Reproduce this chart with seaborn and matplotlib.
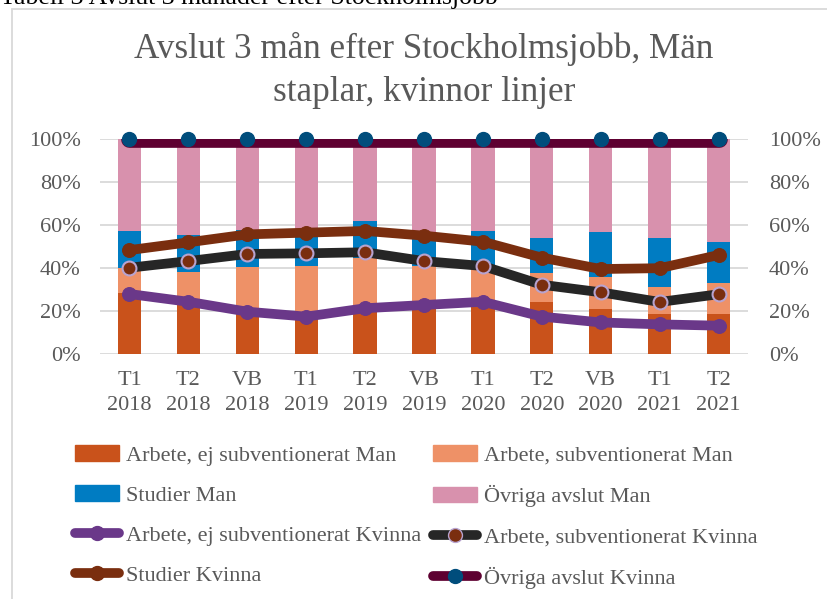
import numpy as np
import matplotlib
matplotlib.use("Agg")
import matplotlib.pyplot as plt
import seaborn as sns
from matplotlib.lines import Line2D
from matplotlib.patches import Patch, Rectangle
from matplotlib.ticker import PercentFormatter

# periods on the x axis
periods = ["T1\n2018", "T2\n2018", "VB\n2018", "T1\n2019", "T2\n2019", "VB\n2019",
           "T1\n2020", "T2\n2020", "VB\n2020", "T1\n2021", "T2\n2021"]

# men (bars), share in percent
man_arbete_ej_subv = [28.6, 25.0, 20.5, 18.0, 21.5, 23.0, 22.0, 24.4, 21.0, 18.7, 18.7]
man_arbete_subv = [11.4, 13.0, 20.2, 23.2, 23.1, 18.0, 18.7, 13.2, 15.0, 12.7, 14.6]
man_studier = [17.3, 17.4, 17.0, 16.8, 17.4, 14.0, 16.7, 16.3, 21.0, 22.8, 19.0]
man_ovriga = [42.7, 44.6, 42.3, 42.0, 38.0, 45.0, 42.6, 46.1, 43.0, 45.8, 47.7]

# women (stacked lines), share in percent
kv_arbete_ej_subv = [28.0, 24.4, 19.8, 17.5, 21.4, 22.9, 24.4, 17.5, 14.8, 13.9, 13.3]
kv_arbete_subv = [12.2, 18.9, 26.8, 29.4, 26.0, 20.4, 16.6, 14.8, 14.0, 10.4, 14.6]
kv_studier = [8.2, 8.7, 9.1, 9.6, 9.9, 11.8, 11.3, 12.6, 10.8, 15.7, 18.2]
kv_ovriga = [51.6, 48.0, 44.3, 43.5, 42.7, 44.9, 47.7, 55.1, 60.4, 60.0, 53.9]

c_dark = "#C9521B"
c_light = "#EE9167"
c_blue = "#007CC2"
c_pink = "#D891AD"
c_purple = "#6A3889"
c_black = "#262626"
c_brown = "#7A2E0F"
c_maroon = "#5E0031"
c_dot = "#004D7C"
c_edge = "#B8A3CF"
txt = "#595959"

sns.set_style("white")
plt.rcParams["font.family"] = ["Liberation Serif", "DejaVu Serif"]

fig = plt.figure(figsize=(8.28, 5.99), dpi=100)
ax = fig.add_axes([100 / 828, 1 - 354.3 / 599, 648 / 828, 215.3 / 599])

# stacked bars: draw cumulative totals from the top layer down
man_layers = [man_arbete_ej_subv, man_arbete_subv, man_studier, man_ovriga]
man_cum = np.cumsum(np.array(man_layers), axis=0)
for cum, col in zip(man_cum[::-1], [c_pink, c_blue, c_light, c_dark]):
    sns.barplot(x=periods, y=cum, color=col, saturation=1, width=0.395,
                linewidth=0, ax=ax, zorder=2)

# stacked lines for women
kv_cum = np.cumsum(np.array([kv_arbete_ej_subv, kv_arbete_subv, kv_studier, kv_ovriga]), axis=0)
xpos = np.arange(len(periods))
lw = 7
ms = 10
sns.lineplot(x=xpos, y=kv_cum[0], color=c_purple, lw=lw, marker="o", markersize=ms,
             markeredgecolor=c_purple, ax=ax, zorder=4)
sns.lineplot(x=xpos, y=kv_cum[1], color=c_black, lw=lw, marker="o", markersize=ms,
             markerfacecolor=c_brown, markeredgecolor=c_edge, markeredgewidth=1.5, ax=ax, zorder=4)
sns.lineplot(x=xpos, y=kv_cum[2], color=c_brown, lw=lw, marker="o", markersize=ms,
             markeredgecolor=c_brown, ax=ax, zorder=4)
sns.lineplot(x=xpos, y=kv_cum[3], color=c_maroon, lw=12, solid_capstyle="round", ax=ax, zorder=4)
ax.plot(xpos, kv_cum[3], ls="none", marker="o", markersize=ms, color=c_dot, clip_on=False, zorder=5)

ax.set_xlim(-0.5, len(periods) - 0.5)
ax.set_ylim(0, 100)
ax.set_yticks(np.arange(0, 101, 20))
ax.yaxis.set_major_formatter(PercentFormatter(decimals=0))
ax.grid(axis="y", color="#D9D9D9", lw=1.3, zorder=0)
ax.set_axisbelow(True)
ax.set_xlabel("")
ax.set_ylabel("")
for s in ax.spines.values():
    s.set_visible(False)
ax.tick_params(axis="both", length=0, labelsize=16, labelcolor=txt)
ax.tick_params(axis="y", pad=14)
ax.tick_params(axis="x", pad=12)
for lbl in ax.get_xticklabels():
    lbl.set_linespacing(1.45)

ax2 = ax.twinx()
ax2.set_ylim(0, 100)
ax2.set_yticks(np.arange(0, 101, 20))
ax2.yaxis.set_major_formatter(PercentFormatter(decimals=0))
for s in ax2.spines.values():
    s.set_visible(False)
ax2.tick_params(axis="y", length=0, labelsize=16, labelcolor=txt, pad=15)

fig.text(424 / 828, 1 - 70 / 599, "Avslut 3 mån efter Stockholmsjobb, Män\nstaplar, kvinnor linjer",
         ha="center", va="center", fontsize=25.3, color=txt, linespacing=1.4)
fig.text(0.0, 1 - 4 / 599, "Tabell 3 Avslut 3 månader efter Stockholmsjobb",
         ha="left", va="baseline", fontsize=18.5, color="black")

# chart area border (only top and left edges inside the picture)
fig.patches.append(Rectangle((12 / 828, -0.1), 1.2, 1 - 9 / 599 + 0.1, transform=fig.transFigure,
                             fill=False, edgecolor="#D9D9D9", lw=1.3))

col1 = [Patch(color=c_dark, label="Arbete, ej subventionerat Man"),
        Patch(color=c_blue, label="Studier Man"),
        Line2D([], [], color=c_purple, lw=lw, marker="o", markersize=ms, solid_capstyle="round",
               label="Arbete, ej subventionerat Kvinna"),
        Line2D([], [], color=c_brown, lw=lw, marker="o", markersize=ms, solid_capstyle="round",
               label="Studier Kvinna")]
col2 = [Patch(color=c_light, label="Arbete, subventionerat Man"),
        Patch(color=c_pink, label="Övriga avslut Man"),
        Line2D([], [], color=c_black, lw=lw, marker="o", markersize=ms, markerfacecolor=c_brown,
               markeredgecolor=c_edge, solid_capstyle="round", label="Arbete, subventionerat Kvinna"),
        Line2D([], [], color=c_maroon, lw=lw, marker="o", markersize=ms, markerfacecolor=c_dot,
               markeredgecolor=c_dot, solid_capstyle="round", label="Övriga avslut Kvinna")]

for handles, x0 in [(col1, 75), (col2, 433)]:
    leg = fig.legend(handles=handles, loc="upper left", bbox_to_anchor=(x0 / 828, 1 - 445 / 599),
                     frameon=False, fontsize=16, labelcolor=txt, borderpad=0, borderaxespad=0,
                     handlelength=2.0, handletextpad=0.3, labelspacing=0.88)

fig.savefig("out.png", dpi=100)
